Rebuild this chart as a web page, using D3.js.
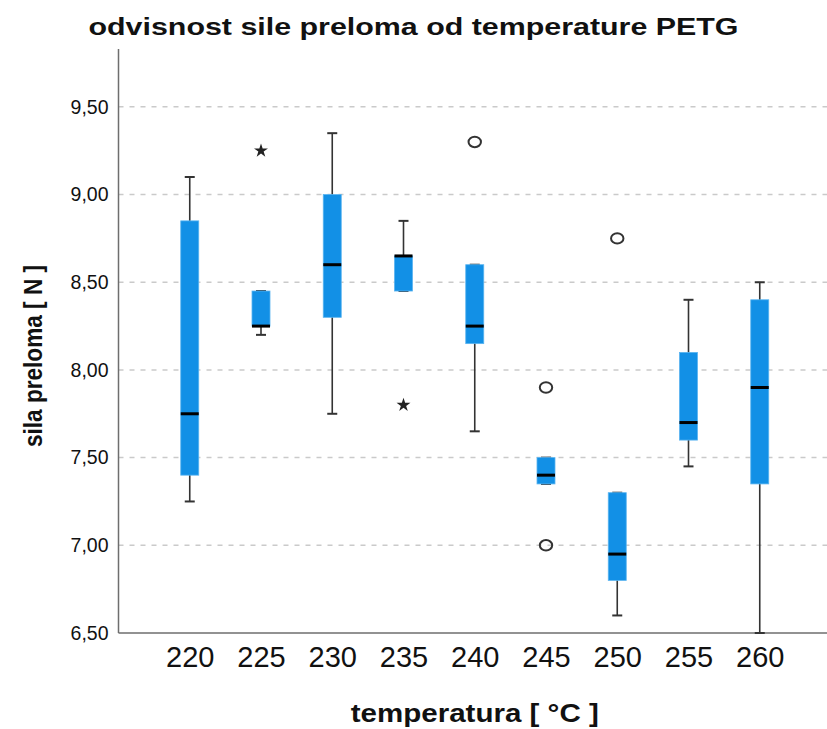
<!DOCTYPE html>
<html>
<head>
  <meta charset="utf-8">
  <title>odvisnost sile preloma od temperature PETG</title>
  <script src="https://cdn.jsdelivr.net/npm/d3@7"></script>
  <style>
    body { margin: 0; background: #fff; }
    text { font-family: "Liberation Sans", Arial, sans-serif; fill: #111; }
  </style>
</head>
<body>
<script>

// temperatures on the x axis
var categories = ["220", "225", "230", "235", "240", "245", "250", "255", "260"];

// box plot statistics
var whiskerLow  = [7.25, 8.20, 7.75, 8.45, 7.65, 7.35, 6.60, 7.45, 6.50];
var q1          = [7.40, 8.25, 8.30, 8.45, 8.15, 7.35, 6.80, 7.60, 7.35];
var median      = [7.75, 8.25, 8.60, 8.65, 8.25, 7.40, 6.95, 7.70, 7.90];
var q3          = [8.85, 8.45, 9.00, 8.65, 8.60, 7.50, 7.30, 8.10, 8.40];
var whiskerHigh = [9.10, 8.45, 9.35, 8.85, 8.60, 7.50, 7.30, 8.40, 8.50];

// outliers (circles) and extremes (stars)
var outlierCats   = ["240", "245", "245", "250"];
var outlierValues = [9.30, 7.90, 7.00, 8.75];
var extremeCats   = ["225", "235"];
var extremeValues = [9.25, 7.80];

var yTicks = [6.5, 7.0, 7.5, 8.0, 8.5, 9.0, 9.5];

var width = 827,
    height = 729;

var plot = { left: 118.5, right: 831, top: 49, bottom: 633 };

var svg = d3.select("body").append("svg")
    .attr("width", width)
    .attr("height", height);

var x = d3.scalePoint()
    .domain(categories)
    .range([plot.left, plot.right])
    .padding(1);

var y = d3.scaleLinear()
    .domain([6.5, 9.83])
    .range([plot.bottom, plot.top]);

var fmt = function(d) { return d3.format(".2f")(d).replace(".", ","); };

// gridlines
svg.append("g")
    .selectAll("line")
    .data(yTicks.filter(function(d) { return d > 6.5; }))
  .enter().append("line")
    .attr("x1", plot.left)
    .attr("x2", width)
    .attr("y1", function(d) { return y(d); })
    .attr("y2", function(d) { return y(d); })
    .attr("stroke", "#cacaca")
    .attr("stroke-width", 1.5)
    .attr("stroke-dasharray", "5,6");

// y axis
var yAxis = svg.append("g")
    .attr("transform", "translate(" + plot.left + ",0)")
    .call(d3.axisLeft(y).tickValues(yTicks).tickFormat(fmt).tickSize(0).tickPadding(10));
yAxis.select(".domain").remove();
yAxis.selectAll("text")
    .style("font-size", "19.5px")
    .style("font-family", "'Liberation Sans', Arial, sans-serif")
    .attr("fill", "#333");

// x axis
var xAxis = svg.append("g")
    .attr("transform", "translate(0," + plot.bottom + ")")
    .call(d3.axisBottom(x).tickSize(0).tickPadding(13));
xAxis.select(".domain").remove();
xAxis.selectAll("text")
    .style("font-size", "29px")
    .style("font-family", "'Liberation Sans', Arial, sans-serif")
    .attr("fill", "#333");

// axis lines
svg.append("line")
    .attr("x1", plot.left).attr("x2", plot.left)
    .attr("y1", plot.top).attr("y2", plot.bottom)
    .attr("stroke", "#6e6e6e").attr("stroke-width", 1.5);
svg.append("line")
    .attr("x1", plot.left).attr("x2", width)
    .attr("y1", plot.bottom).attr("y2", plot.bottom)
    .attr("stroke", "#6e6e6e").attr("stroke-width", 1.5);

// boxes
var boxW = 18, capW = 10;
var boxes = svg.append("g")
    .selectAll("g")
    .data(categories)
  .enter().append("g")
    .attr("transform", function(d) { return "translate(" + x(d) + ",0)"; });

boxes.append("line")
    .attr("x1", 0).attr("x2", 0)
    .attr("y1", function(d, i) { return y(whiskerHigh[i]); })
    .attr("y2", function(d, i) { return y(whiskerLow[i]); })
    .attr("stroke", "#333").attr("stroke-width", 1.6);

boxes.append("line")
    .attr("x1", -capW / 2).attr("x2", capW / 2)
    .attr("y1", function(d, i) { return y(whiskerHigh[i]); })
    .attr("y2", function(d, i) { return y(whiskerHigh[i]); })
    .attr("stroke", "#333").attr("stroke-width", 2);

boxes.append("line")
    .attr("x1", -capW / 2).attr("x2", capW / 2)
    .attr("y1", function(d, i) { return y(whiskerLow[i]); })
    .attr("y2", function(d, i) { return y(whiskerLow[i]); })
    .attr("stroke", "#333").attr("stroke-width", 2);

boxes.append("rect")
    .attr("x", -boxW / 2)
    .attr("width", boxW)
    .attr("y", function(d, i) { return y(q3[i]); })
    .attr("height", function(d, i) { return Math.max(y(q1[i]) - y(q3[i]), 1); })
    .attr("fill", "#1290e6")
    .attr("stroke", "#5ab4f0")
    .attr("stroke-width", 0.8);

boxes.append("line")
    .attr("x1", -boxW / 2).attr("x2", boxW / 2)
    .attr("y1", function(d, i) { return y(median[i]); })
    .attr("y2", function(d, i) { return y(median[i]); })
    .attr("stroke", "#000").attr("stroke-width", 3);

// outliers
svg.append("g")
    .selectAll("ellipse")
    .data(outlierValues)
  .enter().append("ellipse")
    .attr("cx", function(d, i) { return x(outlierCats[i]); })
    .attr("cy", function(d) { return y(d); })
    .attr("rx", 6.2)
    .attr("ry", 5.2)
    .attr("fill", "none")
    .attr("stroke", "#333")
    .attr("stroke-width", 2);

// extremes
svg.append("g")
    .selectAll("path")
    .data(extremeValues)
  .enter().append("path")
    .attr("d", d3.symbol().type(d3.symbolStar).size(60))
    .attr("transform", function(d, i) { return "translate(" + x(extremeCats[i]) + "," + y(d) + ")"; })
    .attr("fill", "#222");

// titles
svg.append("text")
    .attr("x", 413.5)
    .attr("y", 35)
    .attr("text-anchor", "middle")
    .attr("textLength", 650)
    .attr("lengthAdjust", "spacingAndGlyphs")
    .style("font-size", "23px")
    .style("font-weight", "bold")
    .text("odvisnost sile preloma od temperature PETG");

svg.append("text")
    .attr("x", (plot.left + plot.right) / 2)
    .attr("y", 722)
    .attr("text-anchor", "middle")
    .attr("textLength", 248)
    .attr("lengthAdjust", "spacingAndGlyphs")
    .style("font-size", "25px")
    .style("font-weight", "bold")
    .text("temperatura [ °C ]");

svg.append("text")
    .attr("transform", "translate(42,356) rotate(-90)")
    .attr("text-anchor", "middle")
    .attr("textLength", 182)
    .attr("lengthAdjust", "spacingAndGlyphs")
    .style("font-size", "26px")
    .style("font-weight", "bold")
    .text("sila preloma [ N ]");

</script>
</body>
</html>
